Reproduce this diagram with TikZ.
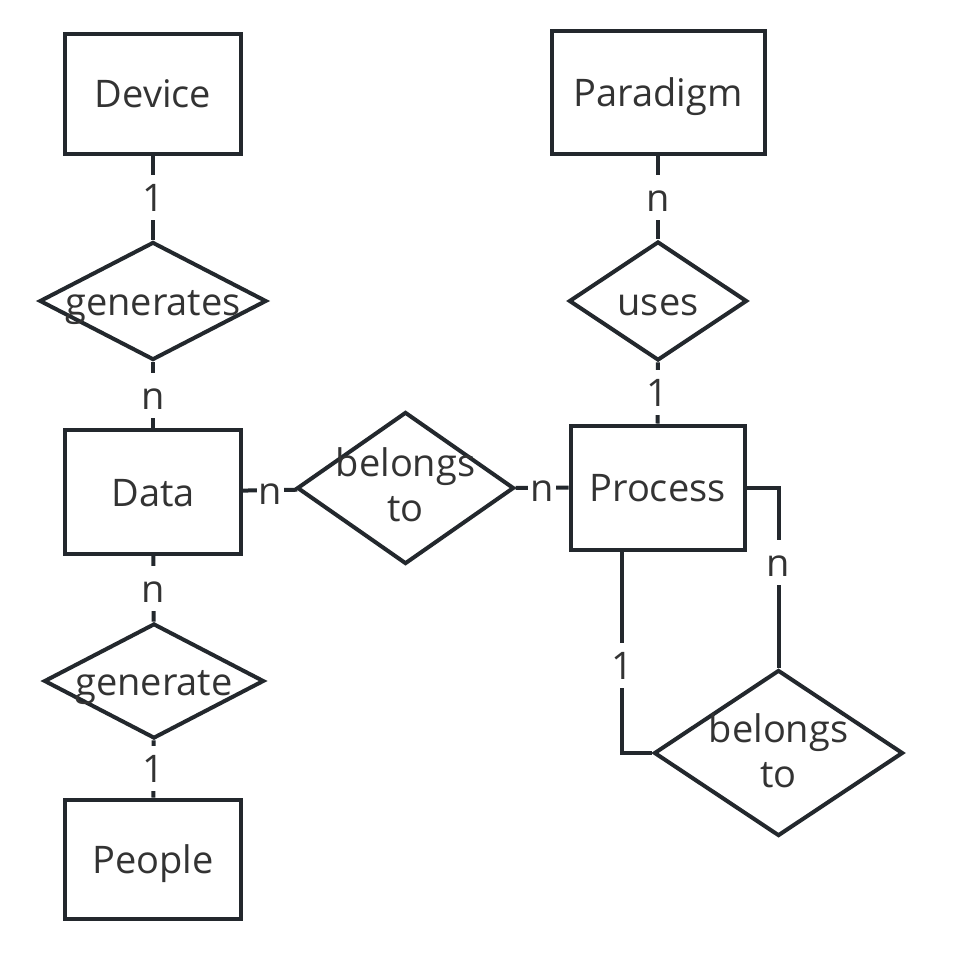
\documentclass[tikz,border=0pt]{standalone}
\usepackage{fontspec}
\setmainfont{Open Sans}
\usetikzlibrary{shapes.geometric,calc}
\definecolor{ln}{RGB}{35,40,45}
\definecolor{tx}{RGB}{51,51,51}
\begin{document}
\begin{tikzpicture}[x=1pt,y=-1pt,
  every node/.style={font=\fontsize{38}{45}\selectfont, text=tx},
  ent/.style={draw=ln, line width=4pt, rectangle, inner sep=0pt, text height=34.5pt, text depth=6.5pt},
  rel/.style={draw=ln, line width=4pt, diamond, inner sep=0pt},
  txt/.style={inner sep=0pt, text height=34.5pt, text depth=6.5pt},
  twoline/.style={inner sep=0pt, align=center},
  card/.style={fill=white, inner sep=2pt, text height=34.5pt, text depth=6.5pt},
  conn/.style={draw=ln, line width=4pt}]
\useasboundingbox[fill=white] (0,0) rectangle (955,965);

% entities
\node[ent, minimum width=176pt, minimum height=120pt] (dev) at (153,94) {Device};
\node[ent, minimum width=213pt, minimum height=123pt] (par) at (658,93) {Paradigm};
\node[ent, minimum width=176pt, minimum height=124pt] (data) at (153,492) {Data};
\node[ent, minimum width=174pt, minimum height=124pt] (proc) at (657.5,487.5) {Process};
\node[ent, minimum width=176pt, minimum height=119pt] (ppl) at (153,859) {People};

% relationships
\node[rel, minimum width=227pt, minimum height=118pt, label={[txt]center:generates}] (gens) at (153,301) {};
\node[rel, minimum width=178pt, minimum height=119pt, label={[txt]center:uses}] (uses) at (658,301) {};
\node[rel, minimum width=217pt, minimum height=152pt, label={[twoline, yshift=3pt]center:{belongs\\to}}] (bel1) at (405.5,488) {};
\node[rel, minimum width=220pt, minimum height=115pt, label={[txt]center:generate}] (gen) at (154,681) {};
\node[rel, minimum width=249pt, minimum height=166pt, label={[twoline, yshift=2pt]center:{belongs\\to}}] (bel2) at (778.5,753) {};

% connectors
\draw[conn] (dev) -- node[card]{1} (gens);
\draw[conn] (gens) -- node[card]{n} (data);
\draw[conn] (data) -- node[card]{n} (gen);
\draw[conn] (gen) -- node[card]{1} (ppl);
\draw[conn] (par) -- node[card]{n} (uses);
\draw[conn] (uses) -- node[card]{1} (proc);
\draw[conn] (data) -- node[card]{n} (bel1);
\draw[conn] (bel1) -- node[card]{n} (proc);
\draw[conn] (proc.east) -| node[card,pos=0.708]{n} (bel2.north);
\coordinate (pbot) at ($(proc.south west)!0.301!(proc.south east)$);
\draw[conn] (pbot) |- node[card,pos=0.284]{1} (bel2.west);
\end{tikzpicture}
\end{document}
